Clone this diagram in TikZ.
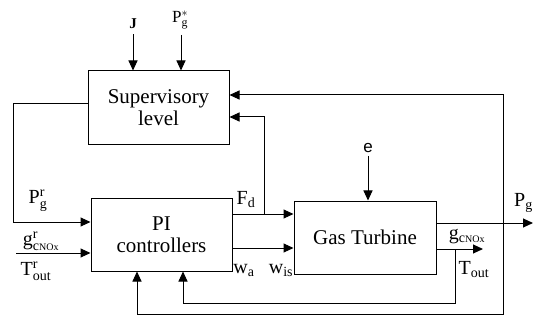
\documentclass[tikz,border=0pt]{standalone}
\usepackage{fix-cm}
\usepackage{fontspec}
\setmainfont{Liberation Serif}
\setsansfont{Liberation Sans}
\setmathrm{Liberation Serif}
\usetikzlibrary{positioning, calc, arrows.meta}

\begin{document}
\begin{tikzpicture}[x=1pt, y=-1pt,
    blk/.style={
        rectangle, draw, line width=1pt, inner sep=0pt,
        align=center, font=\fontsize{21}{22}\selectfont},
    arr/.style={-{Triangle[length=10pt, width=9pt]}, line width=1pt},
    lab/.style={inner sep=0pt, font=\fontsize{20}{24}\selectfont},
    slab/.style={inner sep=0pt, font=\fontsize{17}{20}\selectfont}]
  \useasboundingbox (0,0) rectangle (533,326);
  % Bloques
  \node[blk, minimum width=141pt, minimum height=74pt] (sup) at (158.5,108) {Supervisory\\ level};
  \node[blk, minimum width=141pt, minimum height=73pt] (pi)  at (161.5,234.5) {PI\\ controllers};
  \node[blk, minimum width=142pt, minimum height=73pt] (gt)  at (365,237.5) {Gas Turbine};
  % Puntos libres y uniones
  \coordinate (ref)  at (16,253);
  \coordinate (fdj)  at (264,214);
  \coordinate (pgj)  at (503,223);
  \coordinate (pgo)  at (533,223);
  \coordinate (gno)  at (483,249);
  \coordinate (gnj)  at (455,249);
  % Entradas superiores
  \node[slab, font=\fontsize{15}{18}\selectfont\bfseries] (lJ) at (133,24) {J};
  \node[slab] (lPs) at (180,20) {$\mathrm{P}_{\mathrm{g}}^{*}$};
  \node[slab, font=\fontsize{17}{20}\selectfont\sffamily] (lE) at (368,148) {e};
  \draw[arr] ([yshift=-5pt]lJ.south) -- (lJ |- sup.north);
  \draw[arr] (181,35) -- (sup.north -| 181,0);
  \draw[arr] ([yshift=-3pt]lE.south) -- (lE |- gt.north);
  % Lazo supervisor -> PI
  \draw[arr] (sup.west |- 0,104) -- (13,104) |- (pi.west |- 0,222);
  \draw[arr] (ref) -- (pi.west |- ref);
  % PI -> turbina
  \draw[arr] (pi.east |- fdj) -- (gt.west |- fdj);
  \draw[arr] (fdj) |- (sup.east |- 0,117);
  \draw[arr] (pi.east |- 0,248) -- (gt.west |- 0,248);
  % Salidas de la turbina
  \draw[arr] (gt.east |- pgj) -- (pgo);
  \draw[arr] (pgj) |- (sup.east |- 0,95);
  \draw[arr] (pgj) -- (503,314) -| (pi.south -| 137,0);
  \draw[arr] (gt.east |- gnj) -- (gno);
  \draw[arr] (gnj) |- (183,303) -- (pi.south -| 183,0);
  % Etiquetas
  \node[lab] (lPr)  at (38,201)  {$\mathrm{P}_{\mathrm{g}}^{\mathrm{r}}$};
  \node[lab] (lgr)  at (41,241)  {$\mathrm{g}^{\mathrm{r}}_{\mathrm{c}{\scriptscriptstyle\mathrm{NOx}}}$};
  \node[lab] (lTr)  at (36,271)  {$\mathrm{T}^{\mathrm{r}}_{\mathrm{out}}$};
  \node[lab] (lFd)  at (246,200) {$\mathrm{F}_{\mathrm{d}}$};
  \node[lab] (lwa)  at (244,270) {$\mathrm{w}_{\mathrm{a}}$};
  \node[lab] (lwis) at (281,270) {$\mathrm{w}_{\mathrm{is}}$};
  \node[lab] (lgo)  at (467,237) {$\mathrm{g}_{\mathrm{c}{\scriptscriptstyle\mathrm{NOx}}}$};
  \node[lab] (lTo)  at (474,270) {$\mathrm{T}_{\mathrm{out}}$};
  \node[lab, anchor=east] (lPg) at (533,203) {$\mathrm{P}_{\mathrm{g}}$};
\end{tikzpicture}
\end{document}
